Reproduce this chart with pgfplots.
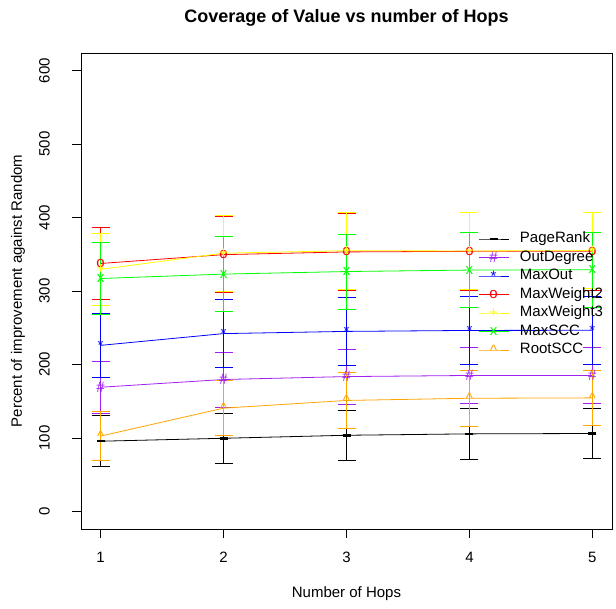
\documentclass[border=0pt]{standalone}
\usepackage{fontspec}
\setmainfont{Liberation Sans}
\usepackage{pgfplots}
\pgfplotsset{compat=1.18}
\definecolor{rpurple}{HTML}{A020F0}
\definecolor{ryellow}{HTML}{FFFF00}
\definecolor{rgreen}{HTML}{00FF00}
\definecolor{rorange}{HTML}{FFA500}
\newcommand{\mk}[2]{\textcolor{#1}{\fontsize{15bp}{15bp}\selectfont #2}}

\begin{document}
\begin{tikzpicture}
\begin{axis}[
  scale only axis, width=531bp, height=476bp,
  xmin=0.84, xmax=5.16, ymin=-24, ymax=624,
  xtick={1,2,3,4,5}, ytick={0,100,...,600},
  tick align=outside, xtick pos=left, ytick pos=left, major tick length=9bp,
  axis line style={line width=0.8bp}, tick style={line width=0.8bp, black},
  font=\fontsize{15bp}{18bp}\selectfont,
  /pgf/number format/assume math mode=true,
  yticklabel style={rotate=90, anchor=south, inner sep=0pt},
  xticklabel style={anchor=north, inner sep=0pt},
  yticklabel shift=22bp, xticklabel shift=14bp,
  xlabel={Number of Hops},
  xlabel style={at={(axis description cs:0.5,-0.143)}, anchor=base},
  ylabel={Percent of improvement against Random},
  ylabel style={at={(axis description cs:-0.1186,0.5)}, anchor=center},
  legend style={draw=none, fill=none, at={(axis description cs:0.7476,0.627)},
    anchor=north west, inner sep=0pt, row sep=2bp,
    nodes={inner sep=1bp, text height=11bp, text depth=3.5bp}},
  legend cell align=left,
  legend image code/.code={\draw[mark repeat=2,mark phase=2,#1]
    plot coordinates {(0bp,0bp)(15bp,0bp)(30bp,0bp)};
    \path (40bp,0bp);},
  rbar/.style={line width=0.8bp, mark options={solid},
    error bars/y dir=both, error bars/y explicit,
    error bars/error bar style={line width=0.8bp},
    error bars/error mark options={rotate=90, mark size=9bp, line width=0.8bp}},
]
\addplot[black, rbar, mark=-, mark options={mark size=4bp, line width=2.5bp}] coordinates {
(1,95.5) +- (0,34.5) (2,99.5) +- (0,34.5) (3,103.6) +- (0,34.2) (4,105.5) +- (0,34.1) (5,106) +- (0,34)
};
\addlegendentry{PageRank}
\addplot[rpurple, rbar, mark=text, text mark={\mk{rpurple}{\#}}] coordinates {
(1,169) +- (0,35) (2,179.5) +- (0,37.5) (3,183.5) +- (0,37.5) (4,185) +- (0,38) (5,185) +- (0,38)
};
\addlegendentry{OutDegree}
\addplot[blue, rbar, mark=text, text mark={\mk{blue}{*}}] coordinates {
(1,226) +- (0,44) (2,242) +- (0,46) (3,245) +- (0,46) (4,246.3) +- (0,46.3) (5,246.5) +- (0,46.5)
};
\addlegendentry{MaxOut}
\addplot[red, rbar, mark=text, text mark={\mk{red}{o}}] coordinates {
(1,337.5) +- (0,49.5) (2,349.5) +- (0,51.5) (3,353.2) +- (0,52.4) (4,354) +- (0,53) (5,354) +- (0,53)
};
\addlegendentry{MaxWeight2}
\addplot[ryellow, rbar, mark=text, text mark={\mk{ryellow}{+}}] coordinates {
(1,329.5) +- (0,49.5) (2,351.5) +- (0,51.5) (3,354.8) +- (0,52.2) (4,354.5) +- (0,52.5) (5,355) +- (0,52)
};
\addlegendentry{MaxWeight3}
\addplot[rgreen, rbar, mark=text, text mark={\mk{rgreen}{x}}] coordinates {
(1,317) +- (0,49) (2,323) +- (0,51) (3,326.5) +- (0,51) (4,328.5) +- (0,51.5) (5,329) +- (0,51)
};
\addlegendentry{MaxSCC}
\addplot[rorange, rbar, mark=text, text mark={\mk{rorange}{\char`\^}}] coordinates {
(1,102.5) +- (0,33.5) (2,140.5) +- (0,37.5) (3,151) +- (0,37.7) (4,154) +- (0,37.7) (5,154.5) +- (0,37.5)
};
\addlegendentry{RootSCC}
\coordinate (ttl) at (axis description cs:0.5,1.0636);
\coordinate (bbl) at (axis description cs:-0.15254,-0.16807);
\coordinate (btr) at (axis description cs:1.00753,1.11134);
\end{axis}
\node[anchor=base, inner sep=0pt, font=\fontsize{18bp}{20bp}\selectfont\bfseries]
  at (ttl) {Coverage of Value vs number of Hops};
\pgfresetboundingbox
\path[use as bounding box] (bbl) rectangle (btr);
\end{tikzpicture}
\end{document}
